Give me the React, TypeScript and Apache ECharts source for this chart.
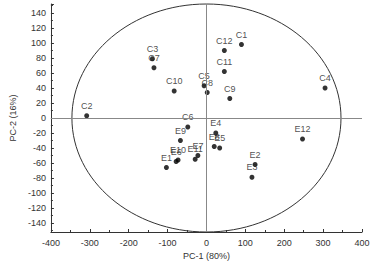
import React, { useEffect, useRef } from 'react';
import * as echarts from 'echarts';

// Sample names and PCA scores
const NAMES = ['C1', 'C2', 'C3', 'C4', 'C5', 'C6', 'C7', 'C8', 'C9', 'C10', 'C11', 'C12',
  'E1', 'E2', 'E3', 'E4', 'E5', 'E6', 'E7', 'E8', 'E9', 'E10', 'E11', 'E12'];
const PC1 = [90, -308, -139, 305, -6, -48, -135, 2, 60, -83, 46, 46,
  -103, 125, 117, 24, 34, -78, -22, 20, -67, -73, -29, 247];
const PC2 = [98, 3, 79, 40, 43, -12, 67, 34, 26, 36, 62, 90,
  -66, -62, -79, -20, -40, -58, -50, -38, -30, -56, -55, -28];

// Axis ranges
const X_MIN = -400;
const X_MAX = 400;
const X_STEP = 100;
const Y_MIN = -152;
const Y_MAX = 152;

// Confidence ellipse (data units), centred at origin
const ELLIPSE_CENTER = [0, 0];
const ELLIPSE_RX = 346;
const ELLIPSE_RY = 152;

// Label tweaks (pixels)
const LABEL_OFFSET: Record<string, [number, number]> = { E1: [-2, 6] };

const FONT = 'Liberation Sans, Arial, sans-serif';

export default function App() {
  const ref = useRef<HTMLDivElement>(null);
  useEffect(() => {
    if (!ref.current) return;
    const chart = echarts.init(ref.current, undefined, { renderer: 'svg' });
    const data = NAMES.map((n, i) => {
      const d: any = { name: n, value: [PC1[i], PC2[i]] };
      if (LABEL_OFFSET[n]) d.label = { offset: LABEL_OFFSET[n] };
      return d;
    });
    chart.setOption({
      animation: false,
      grid: { left: 39, right: 11, top: 4, bottom: 37, containLabel: false },
      xAxis: {
        type: 'value',
        min: X_MIN,
        max: X_MAX,
        interval: X_STEP,
        name: 'PC-1 (80%)',
        nameLocation: 'middle',
        nameGap: 17,
        nameTextStyle: { fontSize: 9, color: '#333', fontFamily: FONT },
        axisLine: { onZero: false, lineStyle: { color: '#333', width: 1 } },
        axisTick: { show: true, inside: true, length: 3, lineStyle: { color: '#333' } },
        minorTick: { show: true, splitNumber: 2, length: 2, lineStyle: { color: '#333' } },
        axisLabel: { fontSize: 9, color: '#333', fontFamily: FONT, margin: 6 },
        splitLine: { show: false },
      },
      yAxis: {
        type: 'value',
        min: Y_MIN,
        max: Y_MAX,
        splitNumber: 15,
        name: 'PC-2 (16%)',
        nameLocation: 'middle',
        nameGap: 30,
        nameTextStyle: { fontSize: 9, color: '#333', fontFamily: FONT },
        axisLine: { onZero: false, lineStyle: { color: '#333', width: 1 } },
        axisTick: { show: true, inside: true, length: 3, lineStyle: { color: '#333' } },
        minorTick: { show: true, splitNumber: 2, length: 2, lineStyle: { color: '#333' } },
        axisLabel: { fontSize: 9, color: '#333', fontFamily: FONT, margin: 5, showMinLabel: false, showMaxLabel: false },
        splitLine: { show: false },
      },
      series: [
        {
          type: 'scatter',
          data,
          symbol: 'circle',
          symbolSize: 5,
          itemStyle: { color: '#000' },
          label: {
            show: true,
            position: 'top',
            distance: 3,
            formatter: '{b}',
            fontSize: 9,
            color: '#222',
            fontFamily: FONT,
          },
          labelLayout: { hideOverlap: false },
          markLine: {
            silent: true,
            symbol: ['none', 'none'],
            label: { show: false },
            lineStyle: { color: '#888', width: 1, type: 'solid' },
            data: [{ xAxis: 0 }, { yAxis: 0 }],
          },
          z: 3,
        },
      ],
    });
    const c = chart.convertToPixel({ gridIndex: 0 }, ELLIPSE_CENTER) as number[];
    const ex = chart.convertToPixel({ gridIndex: 0 }, [ELLIPSE_CENTER[0] + ELLIPSE_RX, ELLIPSE_CENTER[1]]) as number[];
    const ey = chart.convertToPixel({ gridIndex: 0 }, [ELLIPSE_CENTER[0], ELLIPSE_CENTER[1] + ELLIPSE_RY]) as number[];
    chart.setOption({
      graphic: [
        {
          type: 'ellipse',
          silent: true,
          z: 1,
          shape: { cx: c[0], cy: c[1], rx: Math.abs(ex[0] - c[0]), ry: Math.abs(c[1] - ey[1]) },
          style: { fill: 'none', stroke: '#333', lineWidth: 1 },
        },
      ],
    });
    return () => chart.dispose();
  }, []);
  return (
    <div
      ref={ref}
      style={{ position: 'fixed', left: 0, top: 0, width: 373, height: 269, background: '#fff' }}
    />
  );
}
